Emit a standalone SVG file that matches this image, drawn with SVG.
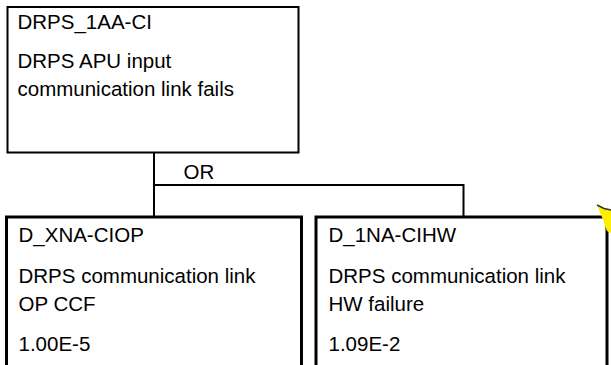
<svg xmlns="http://www.w3.org/2000/svg" width="611" height="365" viewBox="0 0 611 365">
  <style>
    .box { fill: #ffffff; stroke: #000000; }
    .gate { stroke-width: 2; }
    .event { stroke-width: 3; }
    .wire { fill: none; stroke: #000000; stroke-width: 2; }
    text { font-family: "Liberation Sans", Arial, sans-serif; font-size: 20.5px; fill: #000000; }
  </style>
  <rect width="611" height="365" fill="#ffffff"/>

  <!-- OR gate wiring -->
  <g id="connectors">
    <path class="wire" d="M154,152.5 V217 M154,185 H463.5 V217"/>
    <text x="183.5" y="178.5">OR</text>
  </g>

  <!-- top event -->
  <g id="DRPS_1AA-CI">
    <rect class="box gate" x="7.5" y="7" width="291" height="145.5"/>
    <text x="17.5" y="28.5">DRPS_1AA-CI</text>
    <text x="17.5" y="68">DRPS APU input</text>
    <text x="17.5" y="96">communication link fails</text>
  </g>

  <!-- basic event: common cause -->
  <g id="D_XNA-CIOP">
    <rect class="box event" x="6.5" y="217" width="295" height="170"/>
    <text x="18.5" y="242">D_XNA-CIOP</text>
    <text x="18.5" y="283">DRPS communication link</text>
    <text x="18.5" y="311">OP CCF</text>
    <text x="18.5" y="351">1.00E-5</text>
  </g>

  <!-- basic event: hardware failure -->
  <g id="D_1NA-CIHW">
    <rect class="box event" x="316" y="217" width="291" height="170"/>
    <text x="328.5" y="242">D_1NA-CIHW</text>
    <text x="328.5" y="283">DRPS communication link</text>
    <text x="328.5" y="311">HW failure</text>
    <text x="328.5" y="351">1.09E-2</text>
    <!-- flag marker on the corner -->
    <path d="M597,205 L604,208.5 L611,210 L611,233 L607,231 Q603,219 597,205 Z" fill="#ffee00" stroke="none"/>
    <path d="M597,205 L604,208.5 L611,210" fill="none" stroke="#333333" stroke-width="1.5"/>
  </g>
</svg>
